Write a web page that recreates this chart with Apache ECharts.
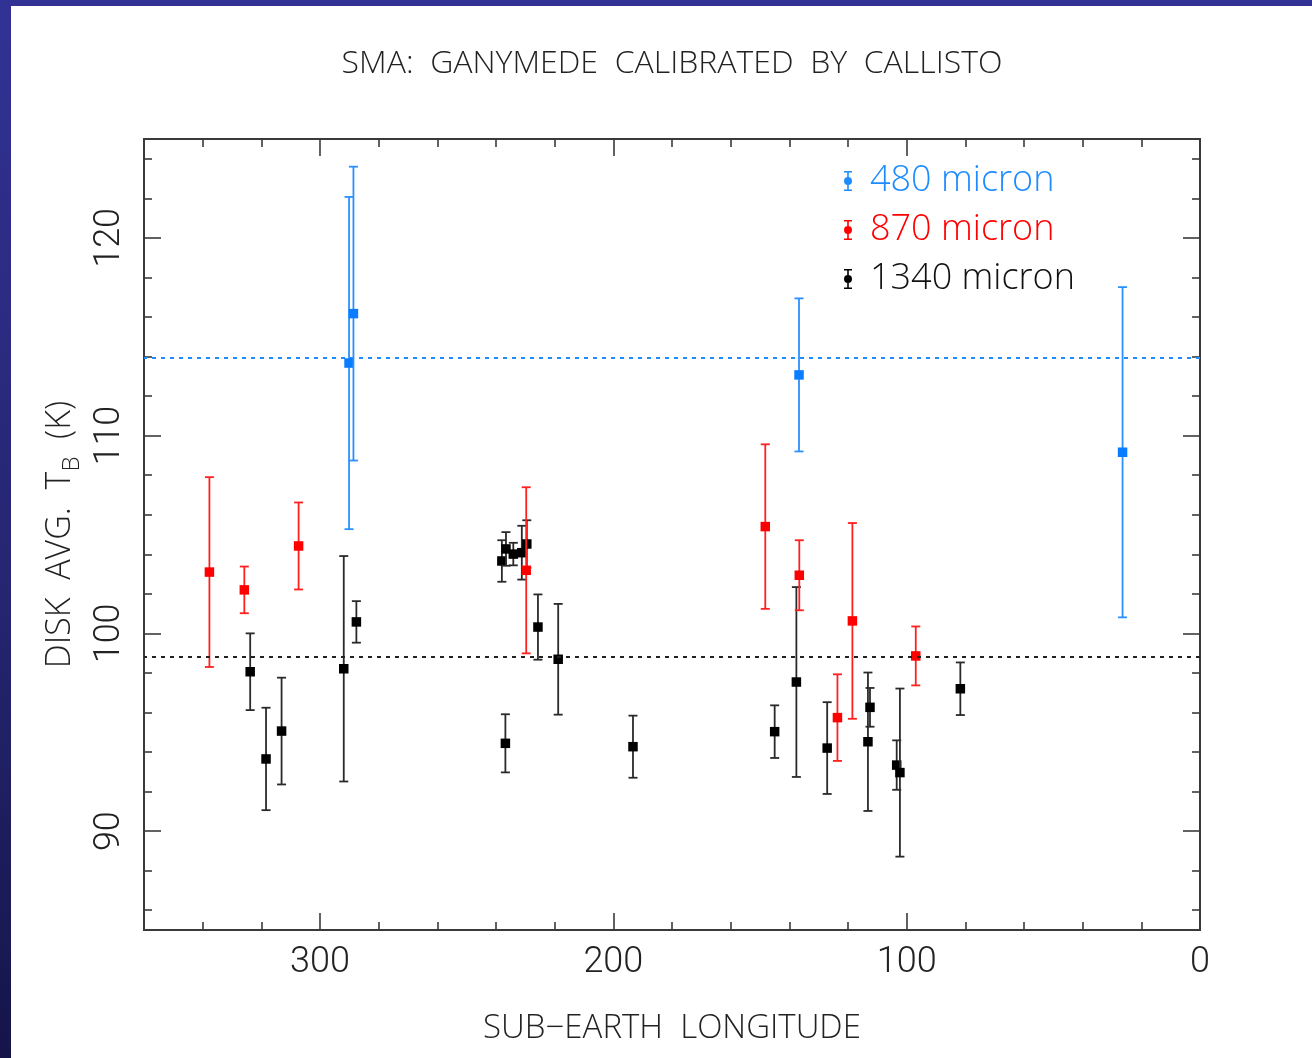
<!DOCTYPE html>
<html>
<head>
<meta charset="utf-8">
<script src="https://cdn.jsdelivr.net/npm/echarts@6/dist/echarts.min.js"></script>
<style>
  html, body { margin: 0; padding: 0; }
  body {
    width: 1312px; height: 1058px; overflow: hidden;
    background: linear-gradient(to bottom, #323295 0%, #24246e 60%, #15154a 100%);
    position: relative;
  }
  #chart {
    position: absolute; left: 11px; top: 6px;
    width: 1301px; height: 1052px; background: #ffffff;
  }
</style>
</head>
<body>
<div id="chart"></div>
<script>
// Sub-Earth longitude (deg), disk-averaged brightness temperature (K), 1-sigma error (K)
const lon480 = [290.1, 288.6, 136.7, 26.4];
const tb480  = [113.67, 116.17, 113.07, 109.16];
const err480 = [8.4, 7.43, 3.87, 8.35];

const lon870 = [337.7, 325.8, 307.3, 229.7, 148.2, 136.6, 123.6, 118.5, 96.9];
const tb870  = [103.1, 102.2, 104.42, 103.19, 105.4, 102.94, 95.74, 100.63, 98.86];
const err870 = [4.8, 1.18, 2.2, 4.2, 4.16, 1.77, 2.19, 4.95, 1.49];

const lon1340 = [323.8, 318.4, 313.1, 291.9, 287.6,
                 238.0, 236.6, 234.1, 231.2, 229.5, 225.7, 218.8, 236.8, 193.3,
                 145.0, 137.6, 127.1, 113.2, 112.5, 103.4, 102.3, 81.7];
const tb1340  = [98.06, 93.65, 95.06, 98.21, 100.58,
                 103.66, 104.27, 104.01, 104.08, 104.52, 100.32, 98.69, 94.44, 94.27,
                 95.03, 97.54, 94.2, 94.52, 96.26, 93.34, 92.96, 97.2];
const err1340 = [1.94, 2.59, 2.7, 5.7, 1.05,
                 1.05, 0.85, 0.57, 1.36, 1.2, 1.65, 2.8, 1.47, 1.57,
                 1.33, 4.8, 2.32, 3.5, 0.98, 1.25, 4.25, 1.33];

// Mean temperatures drawn as dotted reference lines
const mean480 = 113.93;
const mean1340 = 98.82;

const seriesNames = ['480 micron', '870 micron', '1340 micron'];

// Axis ranges and tick positions
const xRange = [0, 360];
const yRange = [85, 125];
const xMajorTicks = [0, 100, 200, 300];
const xMinorTicks = [20, 40, 60, 80, 120, 140, 160, 180, 220, 240, 260, 280, 320, 340];
const yMajorTicks = [90, 100, 110, 120];
const yMinorTicks = [86, 88, 92, 94, 96, 98, 102, 104, 106, 108, 112, 114, 116, 118, 122, 124];

const FONT = "'Open Sans', Roboto, 'DejaVu Sans', sans-serif";
const NUMFONT = "Roboto, 'Open Sans', sans-serif";
const AXIS_COLOR = '#3a3a3a';

function zip(lons, tbs, errs) {
  return lons.map((l, i) => [l, tbs[i], errs[i]]);
}

// Error bar with caps and a square marker at the measured value
function errorBarRenderer(barColor, markColor, markSize) {
  return function (params, api) {
    const x = api.value(0), y = api.value(1), e = api.value(2);
    const c = api.coord([x, y]);
    const top = api.coord([x, y + e]);
    const bot = api.coord([x, y - e]);
    const cap = 4.5;
    const ls = { stroke: barColor, lineWidth: 1.8 };
    return {
      type: 'group',
      children: [
        { type: 'line', shape: { x1: c[0], y1: top[1], x2: c[0], y2: bot[1] }, style: ls },
        { type: 'line', shape: { x1: c[0] - cap, y1: top[1], x2: c[0] + cap, y2: top[1] }, style: ls },
        { type: 'line', shape: { x1: c[0] - cap, y1: bot[1], x2: c[0] + cap, y2: bot[1] }, style: ls },
        { type: 'rect', shape: { x: c[0] - markSize / 2, y: c[1] - markSize / 2, width: markSize, height: markSize },
          style: { fill: markColor } }
      ]
    };
  };
}

// Legend glyph: capped error bar with a filled dot
const legendIcon = 'path://M1,0H9V1.6H1Z M4.2,0H5.8V20H4.2Z M1,18.4H9V20H1Z M1,10A4,4 0 1,1 9,10A4,4 0 1,1 1,10Z';

function xAxisDef(position, ticks, len, withLabels) {
  return {
    type: 'value', position: position, min: xRange[0], max: xRange[1], inverse: true,
    axisLine: { show: true, onZero: false, lineStyle: { color: AXIS_COLOR, width: 2 } },
    axisTick: { show: true, inside: true, length: len, customValues: ticks,
                lineStyle: { color: AXIS_COLOR, width: 1.6 } },
    axisLabel: withLabels
      ? { show: true, customValues: xMajorTicks, margin: 15, color: '#222',
          fontSize: 36, fontFamily: NUMFONT, fontWeight: 300 }
      : { show: false },
    splitLine: { show: false },
    name: withLabels ? 'SUB\u2212EARTH  LONGITUDE' : '',
    nameLocation: 'middle', nameGap: 82,
    nameTextStyle: { color: '#222', fontSize: 33, fontFamily: FONT, fontWeight: 300 }
  };
}

function yAxisDef(position, ticks, len, withLabels) {
  return {
    type: 'value', position: position, min: yRange[0], max: yRange[1],
    axisLine: { show: true, onZero: false, lineStyle: { color: AXIS_COLOR, width: 2 } },
    axisTick: { show: true, inside: true, length: len, customValues: ticks,
                lineStyle: { color: AXIS_COLOR, width: 1.6 } },
    axisLabel: withLabels
      ? { show: true, customValues: yMajorTicks, rotate: 90, margin: 16, color: '#222',
          fontSize: 36, fontFamily: NUMFONT, fontWeight: 300 }
      : { show: false },
    splitLine: { show: false },
    name: withLabels ? '{a|DISK  AVG.  T}{b|B}{a|  (K)}' : '',
    nameLocation: 'middle', nameGap: 57,
    nameTextStyle: {
      color: '#222', fontFamily: FONT, fontWeight: 300,
      rich: {
        a: { fontSize: 34, lineHeight: 32, color: '#222', fontFamily: FONT, fontWeight: 300 },
        b: { fontSize: 24, lineHeight: 48, verticalAlign: 'bottom', color: '#222', fontFamily: FONT, fontWeight: 300 }
      }
    }
  };
}

const chart = echarts.init(document.getElementById('chart'), null, { renderer: 'canvas' });

chart.setOption({
  backgroundColor: '#ffffff',
  animation: false,
  graphic: [{
    type: 'text', x: 661, y: 58,
    style: {
      text: 'SMA:  GANYMEDE  CALIBRATED  BY  CALLISTO',
      textAlign: 'center', textVerticalAlign: 'middle',
      fill: '#222', fontSize: 32, fontFamily: FONT, fontWeight: 300
    }
  }],
  grid: { left: 133, top: 133, width: 1056, height: 791, containLabel: false },
  xAxis: [
    xAxisDef('bottom', xMajorTicks, 17, true),
    xAxisDef('bottom', xMinorTicks, 8, false),
    xAxisDef('top', xMajorTicks, 17, false),
    xAxisDef('top', xMinorTicks, 8, false)
  ],
  yAxis: [
    yAxisDef('left', yMajorTicks, 17, true),
    yAxisDef('left', yMinorTicks, 8, false),
    yAxisDef('right', yMajorTicks, 17, false),
    yAxisDef('right', yMinorTicks, 8, false)
  ],
  legend: {
    orient: 'vertical', left: 828, top: 152,
    itemWidth: 10, itemHeight: 20, itemGap: 13,
    icon: legendIcon,
    textStyle: { fontSize: 36, lineHeight: 33, fontFamily: FONT, fontWeight: 300, padding: [0, 0, 0, 12] },
    data: [
      { name: seriesNames[0], textStyle: { color: '#1e8cff' } },
      { name: seriesNames[1], textStyle: { color: '#ff0000' } },
      { name: seriesNames[2], textStyle: { color: '#111111' } }
    ],
    selectedMode: false
  },
  series: [
    {
      name: seriesNames[2], type: 'custom', xAxisIndex: 0, yAxisIndex: 0,
      itemStyle: { color: '#000000' },
      renderItem: errorBarRenderer('#2a2a2a', '#000000', 9.5),
      encode: { x: 0, y: 1 },
      data: zip(lon1340, tb1340, err1340),
      markLine: {
        silent: true, symbol: ['none', 'none'], label: { show: false },
        lineStyle: { color: '#222', type: [4, 5], width: 1.8 },
        data: [{ yAxis: mean1340 }]
      },
      z: 3
    },
    {
      name: seriesNames[1], type: 'custom', xAxisIndex: 0, yAxisIndex: 0,
      itemStyle: { color: '#ff0000' },
      renderItem: errorBarRenderer('#ff2020', '#ff0000', 9.5),
      encode: { x: 0, y: 1 },
      data: zip(lon870, tb870, err870),
      z: 4
    },
    {
      name: seriesNames[0], type: 'custom', xAxisIndex: 0, yAxisIndex: 0,
      itemStyle: { color: '#1e8cff' },
      renderItem: errorBarRenderer('#2a90ff', '#0a7cff', 9.5),
      encode: { x: 0, y: 1 },
      data: zip(lon480, tb480, err480),
      markLine: {
        silent: true, symbol: ['none', 'none'], label: { show: false },
        lineStyle: { color: '#1e8cff', type: [4, 5], width: 1.8 },
        data: [{ yAxis: mean480 }]
      },
      z: 5
    }
  ]
});
</script>
</body>
</html>
